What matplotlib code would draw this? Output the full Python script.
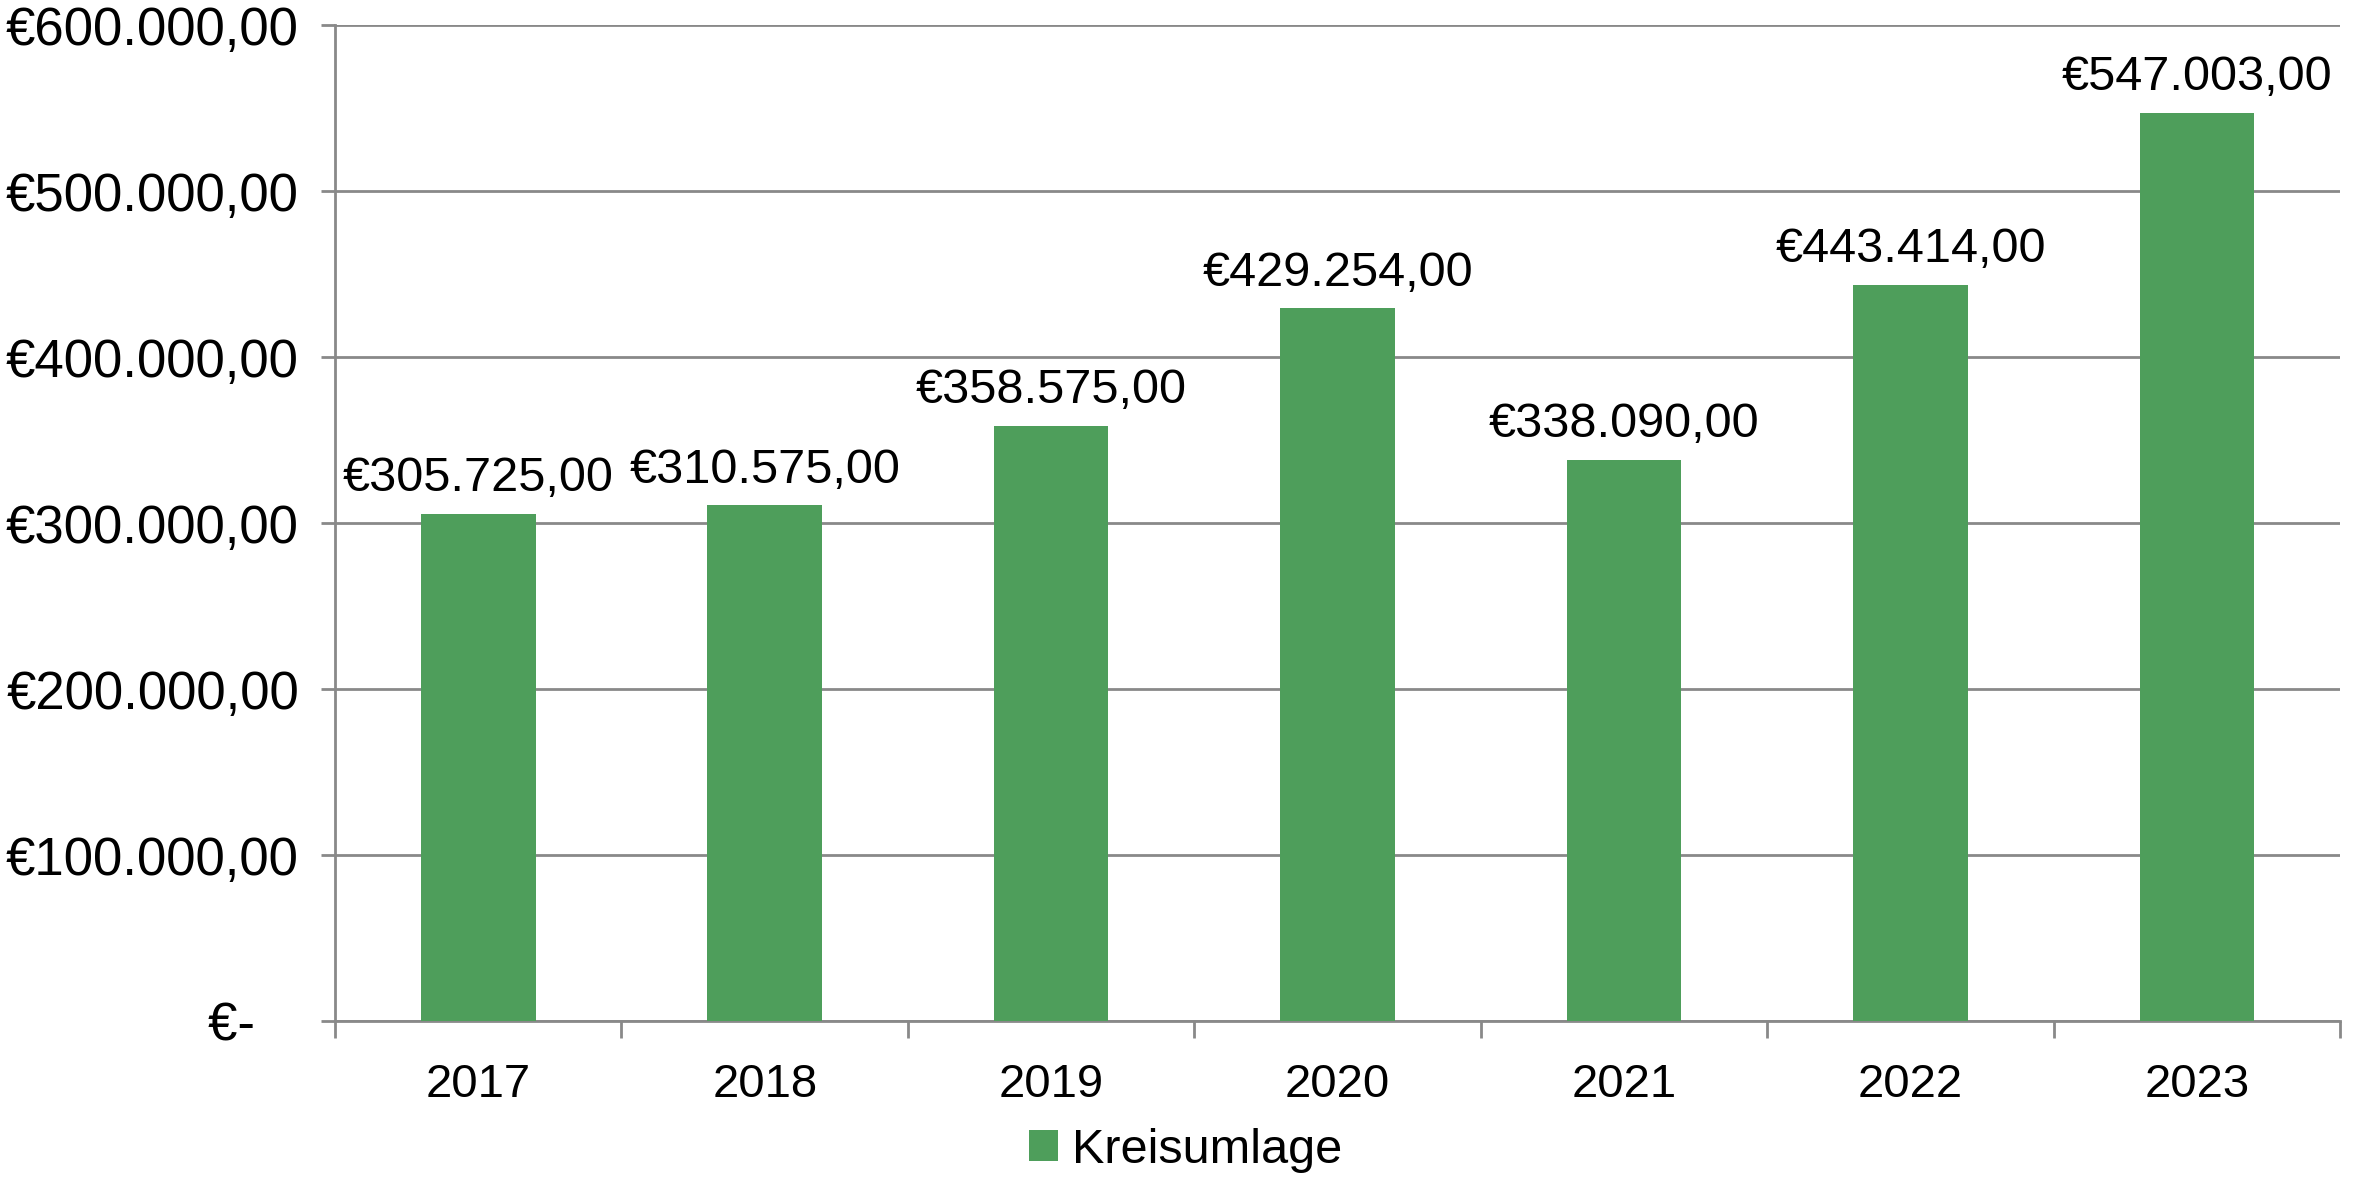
import matplotlib.pyplot as plt
from matplotlib.ticker import FixedLocator

years = ['2017', '2018', '2019', '2020', '2021', '2022', '2023']
kreisumlage = [305725, 310575, 358575, 429254, 338090, 443414, 547003]
y_ticks = [0, 100000, 200000, 300000, 400000, 500000, 600000]
y_labels = ['€-   ', '€100.000,00', '€200.000,00', '€300.000,00',
            '€400.000,00', '€500.000,00', '€600.000,00']

plt.rcParams['font.family'] = ['Liberation Sans', 'DejaVu Sans']

green = '#4e9e5b'
grey = '#898989'

def euro(v):
    s = '{:,.2f}'.format(v)
    s = s.replace(',', 'X').replace('.', ',').replace('X', '.')
    return '€' + s

fig = plt.figure(figsize=(23.71, 11.80), dpi=100)
ax = fig.add_axes([0.1413, 0.1347, 0.987 - 0.1413, 0.9788 - 0.1347])

x = range(len(years))
ax.bar(x, kreisumlage, width=0.4, color=green, label='Kreisumlage', zorder=3)

# value labels above the bars
for xi, v in zip(x, kreisumlage):
    ax.annotate(euro(v), xy=(xi, v), xytext=(0, 9), textcoords='offset points',
                ha='center', va='bottom', fontsize=35)

ax.set_xlim(-0.5, len(years) - 0.5)
ax.set_ylim(0, 600000)
ax.set_yticks(y_ticks)
ax.set_yticklabels(y_labels)
ax.set_xticks(list(x))
ax.set_xticklabels(years)
ax.xaxis.set_minor_locator(FixedLocator([i - 0.5 for i in range(len(years) + 1)]))

ax.tick_params(axis='y', length=10, width=2, color=grey, pad=16, labelsize=38)
ax.tick_params(axis='x', which='major', length=0, pad=30, labelsize=34)
ax.tick_params(axis='x', which='minor', length=12, width=2, color=grey)

ax.grid(axis='y', color=grey, linewidth=2, zorder=0)
for side in ['top', 'right']:
    ax.spines[side].set_visible(False)
for side in ['left', 'bottom']:
    ax.spines[side].set_color(grey)
    ax.spines[side].set_linewidth(2)

fig.legend(loc='lower center', bbox_to_anchor=(0.5, -0.031), frameon=False,
           fontsize=35, handlelength=0.6, handleheight=0.6, handletextpad=0.3)

fig.savefig('out.png', dpi=100)
